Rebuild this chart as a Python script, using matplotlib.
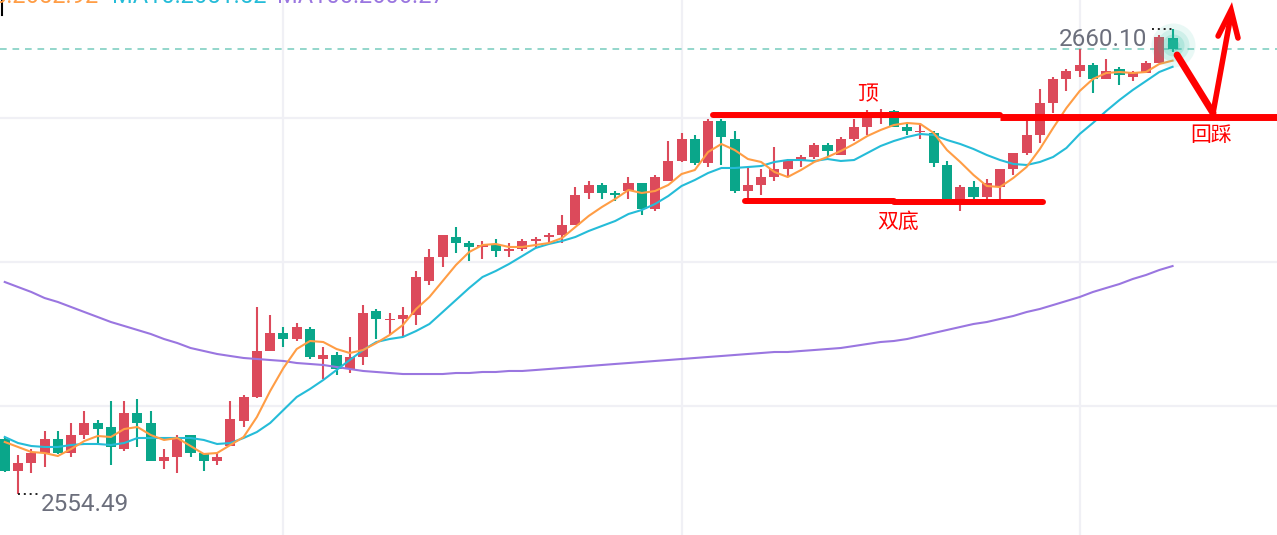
import matplotlib
matplotlib.use("Agg")
import matplotlib.pyplot as plt
from matplotlib.lines import Line2D
import numpy as np

# candles (index 0 = leftmost visible bar)
opens = [
    2566.99, 2559.73, 2561.54, 2563.81, 2566.99, 2563.81, 2567.90, 2570.63, 2569.72, 2564.72,
    2572.90, 2570.63, 2562.00, 2562.91, 2567.90, 2563.81, 2562.00, 2565.40, 2571.08, 2576.53,
    2586.98, 2591.07, 2589.70, 2591.97, 2585.16, 2586.07, 2582.89, 2585.62, 2596.06, 2594.02,
    2594.25, 2595.15, 2602.87, 2608.33, 2612.87, 2611.50, 2610.60, 2611.05, 2609.69, 2610.14,
    2611.96, 2612.87, 2613.32, 2615.59, 2622.86, 2624.68, 2622.86, 2623.31, 2625.13, 2619.23,
    2625.58, 2630.13, 2635.12, 2629.67, 2639.21, 2635.12, 2623.31, 2624.68, 2626.49, 2628.31,
    2630.13, 2631.04, 2633.76, 2631.49, 2635.12, 2637.85, 2639.89, 2641.48, 2637.85, 2636.71,
    2636.49, 2629.22, 2621.50, 2624.22, 2621.95, 2624.22, 2628.31, 2631.94, 2636.03, 2643.30,
    2648.75, 2650.57, 2651.93, 2648.75, 2651.02, 2649.20, 2650.11, 2652.38, 2658.06]
highs = [
    2567.45, 2563.36, 2564.72, 2568.81, 2568.81, 2570.63, 2573.35, 2571.31, 2575.62, 2575.62,
    2576.08, 2573.35, 2564.72, 2567.90, 2567.95, 2563.90, 2563.81, 2575.62, 2576.99, 2596.97,
    2595.15, 2592.43, 2593.34, 2592.43, 2587.89, 2586.75, 2590.16, 2597.42, 2596.52, 2595.61,
    2596.97, 2605.15, 2610.14, 2613.40, 2615.14, 2611.96, 2611.96, 2612.41, 2611.50, 2612.41,
    2612.87, 2613.78, 2617.86, 2624.22, 2625.58, 2625.13, 2623.31, 2626.49, 2625.20, 2626.95,
    2634.67, 2636.49, 2636.03, 2639.67, 2639.67, 2636.94, 2628.76, 2628.31, 2633.31, 2630.58,
    2631.49, 2634.21, 2634.21, 2635.58, 2639.67, 2641.71, 2641.94, 2641.71, 2638.76, 2638.76,
    2636.94, 2630.13, 2624.68, 2625.58, 2626.04, 2628.40, 2632.00, 2639.21, 2646.48, 2649.20,
    2651.02, 2655.56, 2652.38, 2653.29, 2651.47, 2650.57, 2652.84, 2658.74, 2660.10]
lows = [
    2559.50, 2554.49, 2559.27, 2560.63, 2563.60, 2562.91, 2566.99, 2565.63, 2561.09, 2564.27,
    2565.18, 2561.90, 2560.18, 2559.27, 2562.91, 2559.73, 2561.09, 2565.30, 2569.72, 2576.40,
    2586.90, 2587.89, 2589.25, 2585.16, 2580.62, 2581.53, 2581.98, 2583.80, 2589.70, 2590.61,
    2590.16, 2592.88, 2601.97, 2606.05, 2609.23, 2607.42, 2607.87, 2608.33, 2608.33, 2609.69,
    2610.60, 2611.50, 2611.50, 2615.50, 2621.50, 2621.50, 2621.04, 2621.50, 2617.86, 2618.77,
    2625.50, 2630.00, 2629.22, 2628.76, 2629.22, 2622.86, 2621.50, 2622.41, 2625.58, 2626.49,
    2628.76, 2630.58, 2631.04, 2631.40, 2634.67, 2636.03, 2638.53, 2637.75, 2636.03, 2635.12,
    2628.76, 2621.40, 2618.77, 2621.50, 2621.50, 2621.50, 2626.95, 2631.49, 2634.21, 2641.03,
    2646.02, 2649.20, 2645.57, 2648.70, 2647.39, 2648.29, 2650.00, 2652.30, 2654.88]
closes = [
    2559.73, 2561.54, 2563.81, 2566.99, 2563.81, 2567.90, 2570.63, 2569.26, 2565.18, 2572.90,
    2570.63, 2562.00, 2562.91, 2567.45, 2563.81, 2562.00, 2562.91, 2571.54, 2576.53, 2586.98,
    2591.07, 2589.70, 2592.43, 2585.62, 2586.07, 2582.89, 2585.62, 2595.61, 2594.25, 2594.25,
    2595.15, 2603.78, 2608.33, 2613.32, 2611.50, 2610.60, 2611.05, 2609.69, 2610.14, 2611.96,
    2612.41, 2613.32, 2615.59, 2622.41, 2624.68, 2622.86, 2622.41, 2625.13, 2619.23, 2626.49,
    2630.13, 2635.12, 2629.67, 2639.21, 2635.58, 2623.31, 2624.68, 2626.49, 2628.31, 2630.13,
    2631.04, 2633.76, 2632.40, 2635.12, 2637.85, 2640.12, 2640.80, 2637.85, 2636.94, 2636.94,
    2629.67, 2621.50, 2624.22, 2621.95, 2625.13, 2628.31, 2631.94, 2636.03, 2643.30, 2648.75,
    2650.57, 2651.93, 2648.75, 2650.57, 2649.66, 2650.11, 2652.38, 2658.29, 2655.56]

# moving average lines as drawn
ma5 = [
    2566.31, 2565.18, 2564.04, 2563.81, 2563.13, 2564.72, 2566.54, 2567.67, 2567.45, 2569.26,
    2569.72, 2567.90, 2566.77, 2567.22, 2565.40, 2563.59, 2563.81, 2565.63, 2567.45, 2571.99,
    2577.89, 2583.12, 2587.43, 2589.25, 2589.02, 2587.43, 2586.52, 2587.20, 2588.79, 2590.61,
    2592.88, 2596.52, 2599.24, 2602.87, 2606.51, 2609.46, 2611.05, 2611.28, 2610.60, 2610.60,
    2611.05, 2611.50, 2612.64, 2615.14, 2617.64, 2619.68, 2621.50, 2623.54, 2622.86, 2623.31,
    2624.68, 2627.17, 2628.08, 2632.17, 2633.99, 2632.62, 2630.58, 2629.90, 2627.63, 2626.49,
    2628.08, 2629.90, 2631.04, 2632.40, 2633.99, 2635.80, 2637.17, 2638.30, 2638.76, 2638.53,
    2636.49, 2632.62, 2629.90, 2626.95, 2624.45, 2624.22, 2626.27, 2628.76, 2632.85, 2637.62,
    2642.16, 2646.02, 2648.75, 2650.11, 2650.34, 2650.11, 2650.34, 2652.16, 2652.92]
ma10 = [
    2567.45, 2566.08, 2565.40, 2565.18, 2565.18, 2565.63, 2565.86, 2565.86, 2565.63, 2566.08,
    2567.22, 2567.22, 2567.22, 2567.22, 2567.22, 2566.77, 2565.86, 2566.08, 2567.22, 2568.58,
    2570.63, 2573.58, 2576.53, 2578.35, 2580.39, 2582.66, 2584.93, 2587.20, 2589.02, 2589.70,
    2590.16, 2591.52, 2593.11, 2595.83, 2598.56, 2601.29, 2603.78, 2605.15, 2606.74, 2608.55,
    2610.37, 2611.28, 2611.96, 2612.87, 2614.23, 2615.37, 2616.50, 2618.09, 2619.00, 2620.36,
    2622.18, 2624.45, 2625.81, 2627.40, 2628.54, 2628.54, 2628.76, 2628.99, 2629.90, 2630.35,
    2630.35, 2630.13, 2630.58, 2630.13, 2630.35, 2631.94, 2633.53, 2634.67, 2635.58, 2636.26,
    2636.03, 2634.90, 2633.99, 2632.85, 2631.49, 2630.35, 2629.45, 2629.22, 2629.90, 2631.04,
    2633.08, 2636.26, 2638.76, 2641.48, 2643.98, 2646.25, 2648.29, 2650.34, 2651.52]
ma100 = [
    2602.65, 2601.51, 2600.38, 2599.01, 2598.11, 2596.97, 2595.83, 2594.70, 2593.56, 2592.66,
    2591.75, 2590.84, 2589.70, 2588.79, 2587.66, 2586.98, 2586.30, 2585.84, 2585.39, 2585.16,
    2584.93, 2584.71, 2584.25, 2584.03, 2583.80, 2583.34, 2582.89, 2582.44, 2582.21, 2581.98,
    2581.75, 2581.75, 2581.75, 2581.75, 2581.98, 2581.98, 2582.21, 2582.21, 2582.44, 2582.44,
    2582.66, 2582.89, 2583.12, 2583.34, 2583.57, 2583.80, 2584.03, 2584.25, 2584.48, 2584.71,
    2584.93, 2585.16, 2585.39, 2585.62, 2585.84, 2586.07, 2586.30, 2586.52, 2586.75, 2586.75,
    2586.98, 2587.20, 2587.43, 2587.66, 2588.11, 2588.57, 2589.02, 2589.25, 2589.70, 2590.38,
    2591.07, 2591.75, 2592.43, 2593.11, 2593.56, 2594.25, 2594.93, 2595.83, 2596.52, 2597.42,
    2598.33, 2599.24, 2600.38, 2601.29, 2602.19, 2603.33, 2604.24, 2605.37, 2606.27]

ma_labels = ["MA5:2652.92", "MA10:2651.52", "MA100:2606.27"]
grid_prices = [2639.9, 2607.2, 2574.5]
grid_bars = [21, 51, 81]
top_level = 2640.5      # 顶
break_level = 2640.2    # right part of the top line
bottom_level = 2621.0   # 双底

RED = "#dc4a5b"
GREEN = "#0aa68a"
ORANGE = "#ff9d45"
CYAN = "#25bcd8"
PURPLE = "#9a76e0"
GRAY = "#6c6f7c"
MARK = "#ff0000"

plt.rcParams['font.family'] = ['Roboto', 'Noto Sans CJK SC', 'DejaVu Sans']

fig = plt.figure(figsize=(12.77, 5.35), dpi=100)
ax = fig.add_axes([0, 0, 1, 1])
ax.set_xlim(-0.358, 95.87)
ax.set_ylim(2545.19, 2666.69)
ax.axis('off')

for g in grid_prices:
    ax.axhline(g, color='#f0f0f5', lw=1.6, zorder=0)
for b in grid_bars:
    ax.axvline(b, color='#f0f0f5', lw=1.6, zorder=0)

o = np.array(opens)
c = np.array(closes)
x = np.arange(len(c))
cols = np.where(c >= o, RED, GREEN)

ax.vlines(x, lows, highs, colors=cols, lw=1.5, zorder=3)
ax.bar(x, np.maximum(np.abs(c - o), 0.3), bottom=np.minimum(o, c),
       width=0.76, color=cols, linewidth=0, zorder=4)

ax.plot(x, ma100, color=PURPLE, lw=1.5, zorder=5)
ax.plot(x, ma10, color=CYAN, lw=1.5, zorder=5)
ax.plot(x, ma5, color=ORANGE, lw=1.5, zorder=5)

# last price line
ax.axhline(closes[-1], color='#80d0c2', lw=1.2, ls=(0, (4, 3.5)), zorder=2)

# glow on the last bar
for r, a in [(22, 0.10), (16, 0.14), (11, 0.18), (6, 0.25)]:
    ax.scatter(x[-1], 2656.4, s=(2 * r / 1.389) ** 2, color='#2dbfa5',
               alpha=a, lw=0, zorder=6)

# min / max labels
lo_i = int(np.argmin(lows))
hi_i = int(np.argmax(highs))
ax.plot([lo_i, lo_i + 1.55], [lows[lo_i]] * 2, ls=(0, (1, 2)), color='#222', lw=1.4, zorder=6)
ax.text(lo_i + 1.73, 2550.64, "%.2f" % lows[lo_i], ha='left', va='baseline',
        fontsize=17.5, color=GRAY, zorder=7)
ax.plot([hi_i - 1.55, hi_i], [highs[hi_i]] * 2, ls=(0, (1, 2)), color='#222', lw=1.4, zorder=6)
ax.text(hi_i - 1.92, 2656.24, "%.2f" % highs[hi_i], ha='right', va='baseline',
        fontsize=17.5, color=GRAY, zorder=7)

# header, cut off at the top edge as in the screenshot
fig.text(98 / 1277, 1 - 3 / 535, ma_labels[0], ha='right', va='baseline', fontsize=17, color=ORANGE)
fig.text(112 / 1277, 1 - 3 / 535, ma_labels[1], ha='left', va='baseline', fontsize=17, color=CYAN)
fig.text(277 / 1277, 1 - 3 / 535, ma_labels[2], ha='left', va='baseline', fontsize=17, color=PURPLE)
fig.add_artist(Line2D([1.6 / 1277] * 2, [1, 1 - 15 / 535], color='black', lw=1.5))

# hand drawn marks
ax.plot([53.37, 75.0], [top_level] * 2, color=MARK, lw=4.3, solid_capstyle='round', zorder=8)
ax.plot([75.0, 97.0], [break_level] * 2, color=MARK, lw=5, solid_capstyle='butt', zorder=8)
ax.plot([55.78, 67.0], [bottom_level + 0.1] * 2, color=MARK, lw=4.3, solid_capstyle='round', zorder=8)
ax.plot([67.0, 78.24], [bottom_level - 0.2] * 2, color=MARK, lw=4.3, solid_capstyle='round', zorder=8)
ax.plot([88.34, 91.05], [2654.2, 2641.03], color=MARK, lw=5, solid_capstyle='round', zorder=8)
ax.plot([91.05, 92.41], [2641.03, 2663.5], color=MARK, lw=4, solid_capstyle='round', zorder=8)
ax.plot([91.43, 92.41, 92.93], [2658.5, 2664.4, 2658.06], color=MARK, lw=4,
        solid_capstyle='round', solid_joinstyle='miter', zorder=8)

cjk = ['Noto Sans CJK SC', 'DejaVu Sans']
ax.text(65.05, 2645.34, "顶", ha='center', va='center', fontsize=15, color=MARK, family=cjk, zorder=9)
ax.text(67.3, 2616.27, "双底", ha='center', va='center', fontsize=15, color=MARK, family=cjk, zorder=9)
ax.text(90.9, 2636.03, "回踩", ha='center', va='center', fontsize=15, color=MARK, family=cjk, zorder=9)

fig.savefig('out.png', dpi=100)
